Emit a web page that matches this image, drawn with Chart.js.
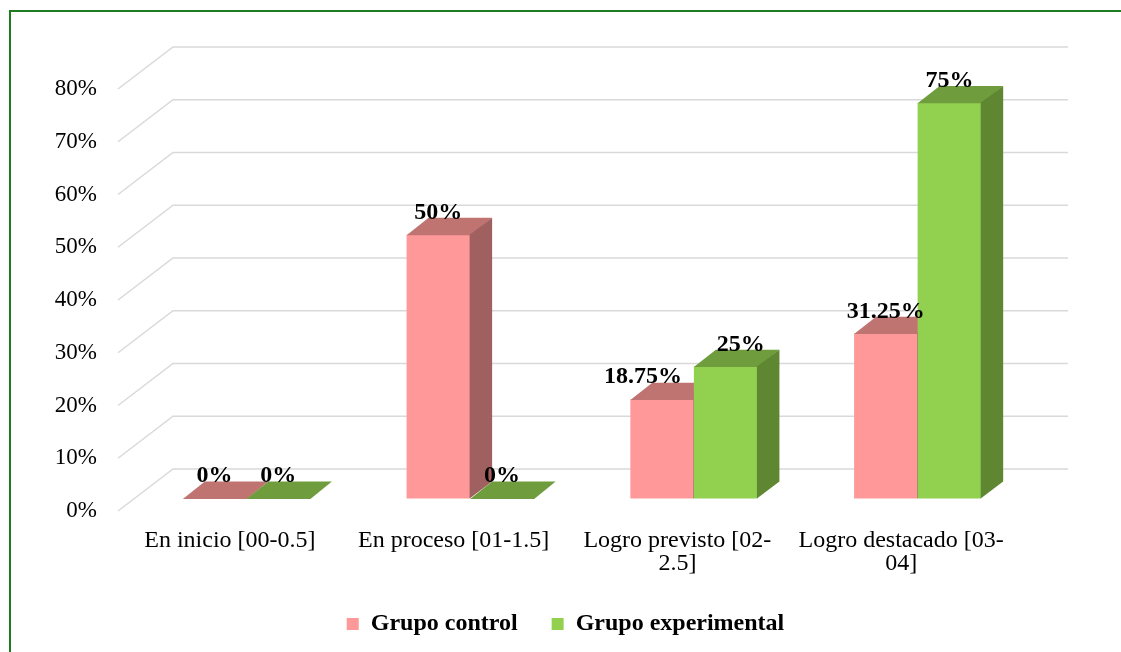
<!DOCTYPE html>
<html>
<head>
<meta charset="utf-8">
<script src="https://cdn.jsdelivr.net/npm/chart.js@4.4.1/dist/chart.umd.min.js"></script>
<style>
  html, body { margin: 0; padding: 0; background: #fff; overflow: hidden; }
  #frame { position: absolute; left: 9px; top: 10px; width: 1200px; height: 700px; border: 2px solid #1E7B1E; }
  #wrap { position: absolute; left: 0; top: 0; width: 1121px; height: 652px; }
</style>
</head>
<body>
<div id="frame"></div>
<div id="wrap"><canvas id="chart" width="1121" height="652"></canvas></div>
<script>
  'use strict';

  // Data.
  var CATEGORIES = [
    'En inicio [00-0.5]',
    'En proceso [01-1.5]',
    ['Logro previsto [02-', '2.5]'],
    ['Logro destacado [03-', '04]']
  ];
  var SERIES_NAMES = ['Grupo control', 'Grupo experimental'];
  var CONTROL = [0, 50, 18.75, 31.25];
  var EXPERIMENTAL = [0, 0, 25, 75];
  var Y_MAX = 80;
  var Y_STEP = 10;

  // Colours (front, top, side) for each series.
  var PINK = ['#FF9999', '#C07472', '#A06060'];
  var GREEN = ['#92D050', '#6F9D3D', '#5F8731'];
  var GRID_COLOR = '#D9D9D9';
  var FONT = '"Liberation Serif", "Times New Roman", serif';

  // Oblique depth of the floor, and where the bars sit inside it.
  var WALL_DX = 55;
  var WALL_DY = 42;
  var BAR_OFFSET = 0.3;
  var BAR_DEPTH = 0.4;

  function fillPoly(ctx, pts) {
    ctx.beginPath();
    ctx.moveTo(pts[0][0], pts[0][1]);
    for (var i = 1; i < pts.length; i++) {
      ctx.lineTo(pts[i][0], pts[i][1]);
    }
    ctx.closePath();
    ctx.fill();
  }

  /**
   * Fakes Excel's 3-D column look: wall gridlines, shifted fronts,
   * tops and right-hand sides, then the value labels.
   */
  var threeD = {
    id: 'threeD',
    beforeDatasetsDraw: function (chart) {
      var ctx = chart.ctx;
      var area = chart.chartArea;
      var y = chart.scales.y;
      ctx.save();
      ctx.strokeStyle = GRID_COLOR;
      ctx.lineWidth = 1.5;
      y.ticks.forEach(function (t) {
        var py = y.getPixelForValue(t.value);
        ctx.beginPath();
        ctx.moveTo(area.left, py);
        ctx.lineTo(area.left + WALL_DX, py - WALL_DY);
        ctx.lineTo(area.right + WALL_DX, py - WALL_DY);
        ctx.stroke();
      });
      ctx.restore();
    },
    // Bars are painted below, left to right, so skip the default pass.
    beforeDatasetDraw: function () {
      return false;
    },
    afterDatasetsDraw: function (chart, args, opts) {
      var ctx = chart.ctx;
      var dx = WALL_DX * BAR_DEPTH;
      var dy = WALL_DY * BAR_DEPTH;
      var n = chart.data.labels.length;

      ctx.save();
      ctx.translate(WALL_DX * BAR_OFFSET, -WALL_DY * BAR_OFFSET);
      for (var i = 0; i < n; i++) {
        chart.data.datasets.forEach(function (ds, di) {
          var bar = chart.getDatasetMeta(di).data[i];
          var p = bar.getProps(['x', 'y', 'base', 'width'], true);
          var l = p.x - p.width / 2;
          var r = p.x + p.width / 2;
          var top = Math.min(p.y, p.base);
          var bot = Math.max(p.y, p.base);
          bar.draw(ctx);
          ctx.fillStyle = ds.topColor;
          fillPoly(ctx, [[l, top + 0.5], [r + 0.5, top + 0.5], [r + dx, top - dy], [l + dx, top - dy]]);
          ctx.fillStyle = ds.sideColor;
          fillPoly(ctx, [[r - 0.5, top], [r + dx, top - dy], [r + dx, bot - dy], [r - 0.5, bot]]);
        });
      }
      ctx.restore();

      ctx.save();
      ctx.font = 'bold 24px ' + FONT;
      ctx.fillStyle = '#000';
      ctx.textAlign = 'center';
      ctx.textBaseline = 'alphabetic';
      chart.data.datasets.forEach(function (ds, di) {
        chart.getDatasetMeta(di).data.forEach(function (bar, i) {
          var p = bar.getProps(['x', 'y'], true);
          var nudge = opts.nudge[di + '-' + i] || 0;
          var x = p.x + WALL_DX * BAR_OFFSET + nudge;
          var yy = p.y - WALL_DY * BAR_OFFSET - 16;
          ctx.fillText(ds.data[i] + '%', x, yy);
        });
      });
      ctx.restore();
    }
  };

  var ctx = document.getElementById('chart').getContext('2d');
  new Chart(ctx, {
    type: 'bar',
    data: {
      labels: CATEGORIES,
      datasets: [{
        label: SERIES_NAMES[0],
        data: CONTROL,
        backgroundColor: PINK[0],
        topColor: PINK[1],
        sideColor: PINK[2],
        borderWidth: 0
      }, {
        label: SERIES_NAMES[1],
        data: EXPERIMENTAL,
        backgroundColor: GREEN[0],
        topColor: GREEN[1],
        sideColor: GREEN[2],
        borderWidth: 0
      }]
    },
    options: {
      responsive: false,
      animation: false,
      layout: { padding: { top: 89, right: 108, left: 0, bottom: 6 } },
      datasets: {
        bar: { categoryPercentage: 0.568, barPercentage: 1 }
      },
      scales: {
        x: {
          grid: { display: false, drawTicks: false },
          border: { display: false },
          ticks: {
            padding: 18,
            color: '#000',
            maxRotation: 0,
            autoSkip: false,
            font: { family: FONT, size: 24, lineHeight: 0.96 }
          },
          afterFit: function (scale) { scale.height = 67; }
        },
        y: {
          min: 0,
          max: Y_MAX,
          grid: { display: false, drawTicks: false },
          border: { display: false },
          ticks: {
            stepSize: Y_STEP,
            padding: 21,
            color: '#000',
            font: { family: FONT, size: 23 },
            callback: function (v) { return v + '%'; }
          },
          afterFit: function (scale) { scale.width = 118; }
        }
      },
      plugins: {
        legend: {
          position: 'bottom',
          fullSize: false,
          labels: {
            boxWidth: 12,
            boxHeight: 12,
            padding: 34,
            color: '#000',
            font: { family: FONT, size: 24, weight: 'bold' }
          }
        },
        tooltip: { enabled: false },
        threeD: {
          nudge: { '0-2': -19, '1-2': 15 }
        }
      }
    },
    plugins: [threeD]
  });
</script>
</body>
</html>
